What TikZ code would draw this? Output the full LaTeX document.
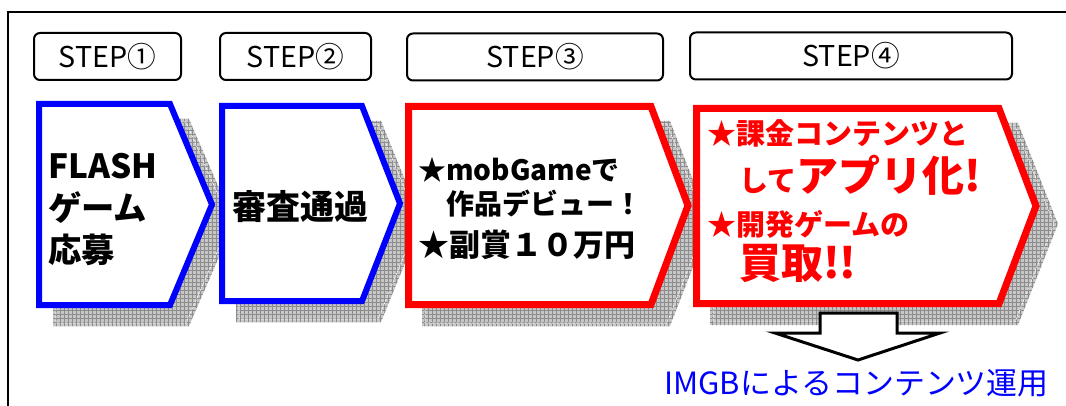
\documentclass[tikz,border=0pt]{standalone}
\usepackage{fontspec}
\setmainfont{Noto Sans CJK JP}
\usetikzlibrary{
    patterns,
    positioning
}
\definecolor{stepblue}{RGB}{0,0,255}
\definecolor{stepred}{RGB}{255,0,0}
\newcommand\bigjp{\fontsize{31.5}{35}\selectfont}
\tikzset{
    chev/.style n args={5}{insert path={(#1,#2) -- (#3,#2) -- (#4,{(#2+#5)/2}) -- (#3,#5) -- (#1,#5) -- cycle}},
    shadowfill/.style={preaction={fill=black!22}, pattern=grid, pattern color=black!45},
    shadowedge/.style={draw=white, line width=0.4pt, dash pattern=on 2pt off 1pt},
    bluechev/.style={draw=stepblue, fill=white, line width=4.5pt, line join=miter},
    redchev/.style={draw=stepred, fill=white, line width=5.25pt, line join=miter},
    stepbox/.style={draw, rounded corners=4.5pt, line width=1.5pt, minimum height=35.25pt, inner sep=0pt, font=\fontsize{21.5}{25}\selectfont},
    bodytext/.style={align=left, inner sep=0pt, font=\bfseries},
    frame/.style={line width=1.5pt}
}

\begin{document}
\begin{tikzpicture}[x=0.75pt, y=-0.75pt]
    \useasboundingbox (0,0) rectangle (1066,406);
    \draw[frame] (8,406) -- (8,12) -- (1066,12);

    \node[stepbox, minimum width=110.25pt] (step1) at (107.5,56.5) {STEP①};
    \node[stepbox, minimum width=113.25pt] (step2) at (295.5,56.5) {STEP②};
    \node[stepbox, minimum width=192pt] (step3) at (535,57) {STEP③};
    \node[stepbox, minimum width=241.5pt] (step4) at (851,56) {STEP④};

    % shadows
    \path[shadowfill, shift={(17,18)}, chev={36}{101}{172}{217}{308}];
    \path[shadowedge, shift={(17,18)}, chev={39}{104}{169}{213}{305}];
    \path[shadowfill, shift={(17,18)}, chev={219}{103}{364}{405}{304}];
    \path[shadowedge, shift={(17,18)}, chev={222}{106}{361}{401}{301}];
    \path[shadowfill, shift={(17,18)}, chev={405}{103}{653}{693}{308}];
    \path[shadowedge, shift={(17,18)}, chev={408}{106}{650}{689}{305}];
    \path[shadowfill, shift={(17,18)}, chev={693}{105}{1001}{1041}{307}];
    \path[shadowedge, shift={(17,18)}, chev={696}{108}{998}{1037}{304}];

    \path[bluechev, chev={39}{104}{170}{212}{305}];
    \path[bluechev, chev={222}{106}{362}{400}{301}];
    \path[redchev, chev={408.5}{106.5}{651}{688}{304.5}];
    \path[redchev, chev={696.5}{108.5}{999}{1036}{303.5}];

    \node[bodytext, anchor=west, font=\bfseries\fontsize{25}{31.5}\selectfont] (flash) at (48,210) {FLASH\\ゲーム\\応募};
    \node[bodytext, anchor=west, font=\bfseries\fontsize{25.5}{30}\selectfont] (review) at (232,207) {審査通過};
    \node[bodytext, anchor=west, font=\bfseries\fontsize{21}{25.5}\selectfont] (debut) at (418,209)
        {★mobGameで\\\hspace*{1em}作品デビュー！\\[6pt]{\fontsize{23.25}{25.5}\selectfont ★副賞１０万円}};
    \node[bodytext, anchor=west, text=stepred, font=\bfseries\fontsize{21.75}{35}\selectfont] (appli) at (707,201)
        {★課金コンテンツと\\\hspace*{1.1em}して{\bigjp アプリ化!}\\[-2pt]★開発ゲームの\\[-3pt]\hspace*{1.1em}{\bigjp 買取!!}};

    % IMGB arrow
    \draw[line width=2.25pt, fill=white, line join=miter] (820,313) -- (897,313) -- (897,333) -- (940,333) -- (858,360) -- (775,333) -- (820,333) -- cycle;
    \node[text=stepblue, inner sep=0pt, font=\fontsize{23}{27}\selectfont] (imgb) at (856.5,383) {\scalebox{1.01}[1]{IMGBによるコンテンツ運用}};
\end{tikzpicture}
\end{document}
